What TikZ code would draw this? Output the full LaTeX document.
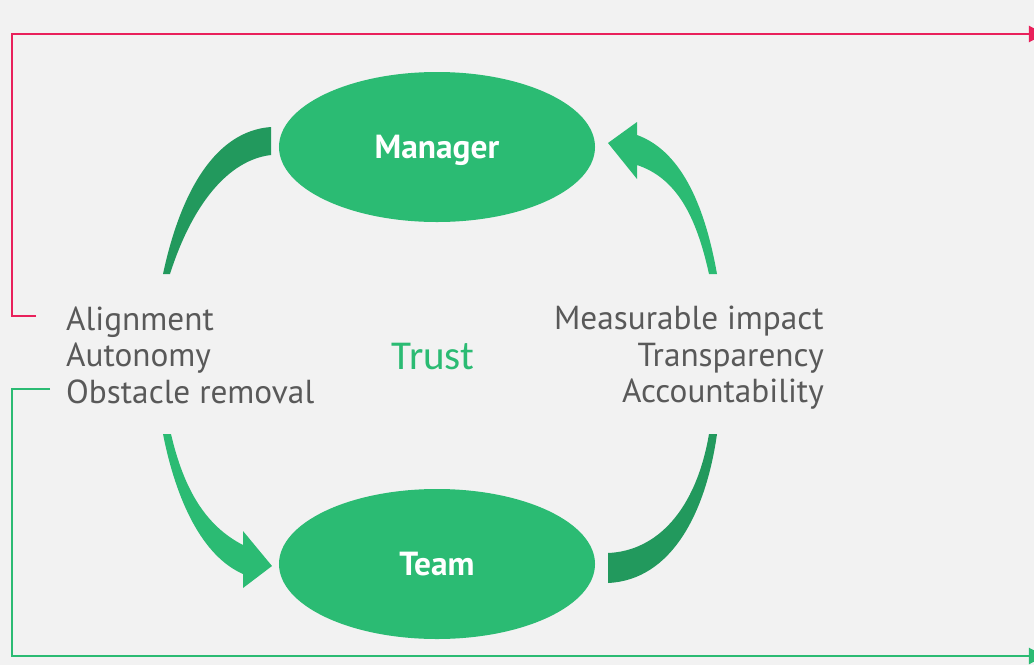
\documentclass[tikz,border=0pt]{standalone}
\usepackage{fontspec}
\setmainfont{PT Sans}
\newfontfamily\trustfont{Carlito}
\usetikzlibrary{shapes.geometric,arrows.meta}
\definecolor{bggray}{HTML}{F2F2F2}
\definecolor{leafgreen}{HTML}{2BBB73}
\definecolor{darkleaf}{HTML}{22995D}
\definecolor{textgray}{HTML}{595959}
\definecolor{alertred}{HTML}{E9215B}
\begin{document}
\begin{tikzpicture}[x=0.03cm, y=-0.03cm,
    role/.style={ellipse, fill=leafgreen, minimum width=9.48cm, minimum height=4.5cm,
      text=white, text depth=0pt, font=\fontsize{28.5}{32}\selectfont\bfseries},
    listtext/.style={inner sep=0pt, text=textgray, font=\fontsize{28.4}{31.2}\selectfont},
    feedback/.style={line width=1.7pt, -{Triangle[length=13.7pt, width=13.7pt]}}]
    \fill [bggray] (0,0) rectangle (1034,665);
    \useasboundingbox (0,0) rectangle (1034,665);
    \clip (0,0) rectangle (1034,665);
    % the two roles
    \node [role] (manager) at (437,147) {Manager};
    \node [role] (team) at (437,564) {Team};
    \node [text=leafgreen, font=\fontsize{35}{40}\selectfont\trustfont] (trust) at (433,356) {Trust};
    % what each side gives
    \node [listtext, anchor=west, align=left] (givesdown) at (66,355) {Alignment\\Autonomy\\Obstacle removal};
    \node [listtext, anchor=east, align=right] (givesup) at (824,358) {Measurable impact\\Transparency\\Accountability};
    % curved arrows
    \fill [darkleaf] (163,274) .. controls (181,190) and (216,131) .. (271,127)
        -- (271,155) .. controls (228,160) and (192,205) .. (170,274) -- cycle;
    \fill [leafgreen] (709,274) .. controls (696,215) and (676,178) .. (637,165)
        -- (637,179) -- (608,143) -- (637,122) -- (637,135)
        .. controls (684,152) and (706,212) .. (717,274) -- cycle;
    \fill [leafgreen] (163,434) .. controls (176,500) and (202,556) .. (243,574)
        -- (243,588) -- (272,566) -- (243,531) -- (243,545)
        .. controls (206,526) and (184,490) .. (171,434) -- cycle;
    \fill [darkleaf] (709,434) .. controls (696,510) and (657,551) .. (608,553)
        -- (608,583) .. controls (672,580) and (706,512) .. (717,434) -- cycle;
    % edge lines
    \coordinate (redstart) at (36,316);
    \coordinate (redend) at (1045,34);
    \coordinate (greenstart) at (50,389);
    \coordinate (greenend) at (1045,656);
    \draw [feedback, alertred] (redstart) -- ++(-24,0) |- (redend);
    \draw [feedback, leafgreen] (greenstart) -- ++(-38,0) |- (greenend);
\end{tikzpicture}
\end{document}
